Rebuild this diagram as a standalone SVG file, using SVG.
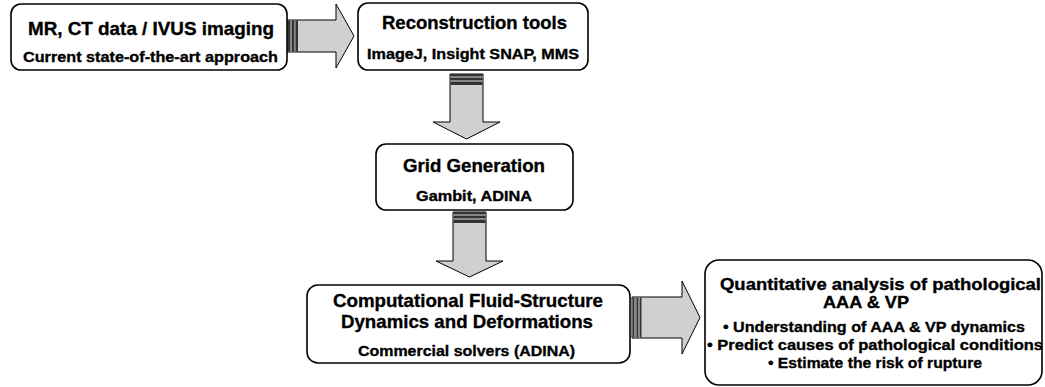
<svg xmlns="http://www.w3.org/2000/svg" width="1045" height="387" viewBox="0 0 1045 387">
<style>
.box{fill:#ffffff;stroke:#000000;stroke-width:1.6}
.arr{fill:#d0d0d0;stroke:#000000;stroke-width:1}
.dk{fill:#333333}
.md{fill:#888888}
text{font-family:"Liberation Sans",Arial,sans-serif;font-weight:bold;fill:#000000;stroke:#000000;stroke-width:0.35;text-anchor:middle}
.t{font-size:18.5px}
.t5{font-size:17px}
.s{font-size:15.5px}
</style>
<rect width="1045" height="387" fill="#ffffff"/>
<g id="connectors">
  <g id="arrow1">
    <polygon class="arr" points="287,20 336,20 336,4 354,36 336,68 336,52 287,52"/>
    <rect class="dk" x="288" y="20.5" width="2.5" height="31"/>
    <rect class="md" x="290.5" y="20.5" width="1.5" height="31"/>
    <rect class="dk" x="292" y="20.5" width="2" height="31"/>
    <rect class="md" x="294" y="20.5" width="1.5" height="31"/>
    <rect class="dk" x="295.5" y="20.5" width="2.5" height="31"/>
  </g>
  <g id="arrow2">
    <polygon class="arr" points="450,74 483,74 483,122 500,122 466.5,139 433,122 450,122"/>
    <rect class="dk" x="450.5" y="74" width="32" height="2.5"/>
    <rect class="md" x="450.5" y="76.5" width="32" height="1.5"/>
    <rect class="dk" x="450.5" y="78" width="32" height="2"/>
    <rect class="md" x="450.5" y="80" width="32" height="2"/>
    <rect class="dk" x="450.5" y="82" width="32" height="3"/>
  </g>
  <g id="arrow3">
    <polygon class="arr" points="453,212 486,212 486,261 503,261 469.5,277 436,261 453,261"/>
    <rect class="dk" x="453.5" y="212" width="32" height="2.5"/>
    <rect class="md" x="453.5" y="214.5" width="32" height="1.5"/>
    <rect class="dk" x="453.5" y="216" width="32" height="2"/>
    <rect class="md" x="453.5" y="218" width="32" height="2"/>
    <rect class="dk" x="453.5" y="220" width="32" height="3"/>
  </g>
  <g id="arrow4">
    <polygon class="arr" points="632,297 682,297 682,281 700,317.5 682,354 682,338 632,338"/>
    <rect class="dk" x="633" y="297.5" width="1.5" height="40"/>
    <rect class="md" x="634.5" y="297.5" width="2" height="40"/>
    <rect class="dk" x="636.5" y="297.5" width="1.5" height="40"/>
    <rect class="md" x="638" y="297.5" width="2" height="40"/>
    <rect class="dk" x="640" y="297.5" width="1.5" height="40"/>
  </g>
</g>
<g id="node1">
  <rect class="box" x="11" y="4" width="276" height="66" rx="10"/>
  <text class="t" x="151" y="35" textLength="246" lengthAdjust="spacingAndGlyphs">MR, CT data / IVUS imaging</text>
  <text class="s" x="150.5" y="62" textLength="255" lengthAdjust="spacingAndGlyphs">Current state-of-the-art approach</text>
</g>
<g id="node2">
  <rect class="box" x="358" y="3" width="230" height="67" rx="10"/>
  <text class="t" x="474.5" y="29" textLength="185" lengthAdjust="spacingAndGlyphs">Reconstruction tools</text>
  <text class="s" x="473" y="59" textLength="212" lengthAdjust="spacingAndGlyphs">ImageJ, Insight SNAP, MMS</text>
</g>
<g id="node3">
  <rect class="box" x="376" y="144" width="197" height="66" rx="10"/>
  <text class="t" x="474" y="172" textLength="142" lengthAdjust="spacingAndGlyphs">Grid Generation</text>
  <text class="s" x="474" y="201" textLength="116" lengthAdjust="spacingAndGlyphs">Gambit, ADINA</text>
</g>
<g id="node4">
  <rect class="box" x="307" y="285" width="323" height="78" rx="11"/>
  <text class="t" x="468" y="307" textLength="270" lengthAdjust="spacingAndGlyphs">Computational Fluid-Structure</text>
  <text class="t" x="467" y="328" textLength="252" lengthAdjust="spacingAndGlyphs">Dynamics and Deformations</text>
  <text class="s" x="466.5" y="356" textLength="217" lengthAdjust="spacingAndGlyphs">Commercial solvers (ADINA)</text>
</g>
<g id="node5">
  <rect class="box" x="705" y="260" width="337" height="125" rx="14"/>
  <text class="t5" x="880.5" y="289.5" textLength="321" lengthAdjust="spacingAndGlyphs">Quantitative analysis of pathological</text>
  <text class="t5" x="866" y="308" textLength="86" lengthAdjust="spacingAndGlyphs">AAA &amp; VP</text>
  <text class="s" x="874" y="332" textLength="302" lengthAdjust="spacingAndGlyphs">• Understanding of AAA &amp; VP dynamics</text>
  <text class="s" x="875" y="350" textLength="336" lengthAdjust="spacingAndGlyphs">• Predict causes of pathological conditions</text>
  <text class="s" x="875" y="368" textLength="214" lengthAdjust="spacingAndGlyphs">• Estimate the risk of rupture</text>
</g>
</svg>
